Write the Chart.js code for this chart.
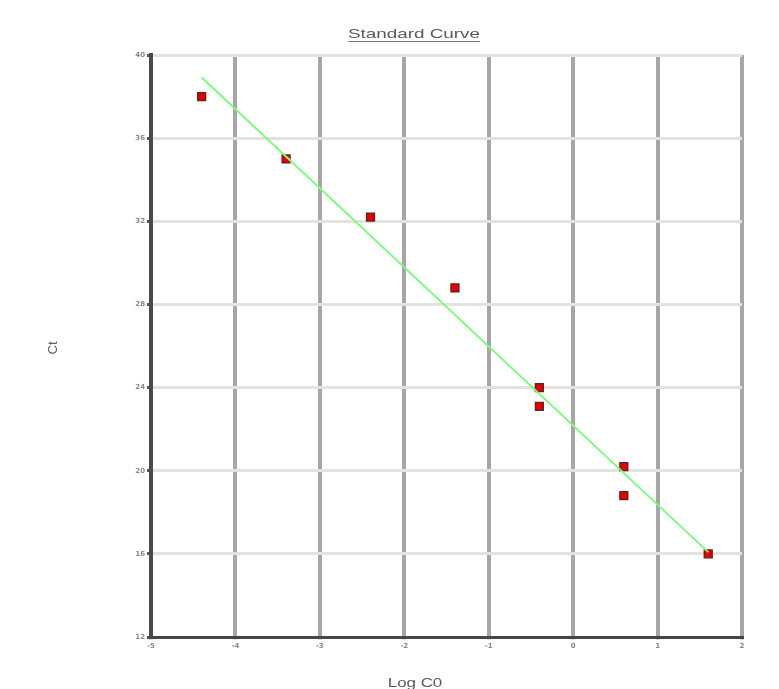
<!DOCTYPE html>
<html>
<head>
<meta charset="utf-8">
<script src="https://cdn.jsdelivr.net/npm/chart.js@4/dist/chart.umd.min.js"></script>
<style>
    html, body { margin: 0; padding: 0; background: #ffffff; }
    #curvaChart { display: block; filter: blur(0.6px); }
</style>
</head>
<body>
<canvas id="curvaChart" width="779" height="689"></canvas>
<script>
// dilution points: log of copies vs threshold cycle
const logCO = [-4.4, -3.4, -2.4, -1.4, -0.4, -0.4, 0.6, 0.6, 1.6];
const ctValues = [38.0, 35.0, 32.2, 28.8, 24.0, 23.1, 20.2, 18.8, 16.0];

const xTicks = [-5, -4, -3, -2, -1, 0, 1, 2];
const yTicks = [12, 16, 20, 24, 28, 32, 36, 40];

const titulo = 'Standard Curve';
const tituloX = 'Log C0';
const tituloY = 'Ct';

// least squares fit drawn across the measured range
function ajusteLinear(xs, ys) {
    const n = xs.length;
    const mx = xs.reduce((a, b) => a + b, 0) / n;
    const my = ys.reduce((a, b) => a + b, 0) / n;
    let sxy = 0, sxx = 0;
    for (let i = 0; i < n; i++) {
        sxy += (xs[i] - mx) * (ys[i] - my);
        sxx += (xs[i] - mx) * (xs[i] - mx);
    }
    const slope = sxy / sxx;
    return { slope, intercept: my - slope * mx };
}

const fit = ajusteLinear(logCO, ctValues);
const xMin = Math.min(...logCO), xMax = Math.max(...logCO);
const linhaFit = [xMin, xMax].map(x => ({ x, y: fit.slope * x + fit.intercept }));
const pontos = logCO.map((x, i) => ({ x, y: ctValues[i] }));

// titles are drawn by hand: underlined, slightly stretched
const textos = {
    id: 'textos',
    afterDraw(chart) {
        const ctx = chart.ctx;
        ctx.save();
        ctx.fillStyle = '#5a5a5a';
        ctx.strokeStyle = '#7a7a7a';
        ctx.textAlign = 'center';
        ctx.textBaseline = 'alphabetic';

        ctx.save();
        ctx.translate(414, 38);
        ctx.scale(1.45, 1);
        ctx.font = '13px "Liberation Sans", Arial, sans-serif';
        ctx.fillText(titulo, 0, 0);
        const w = ctx.measureText(titulo).width;
        ctx.lineWidth = 1;
        ctx.beginPath();
        ctx.moveTo(-w / 2, 3.5);
        ctx.lineTo(w / 2, 3.5);
        ctx.stroke();
        ctx.restore();

        ctx.save();
        ctx.translate(415, 687);
        ctx.scale(1.3, 1);
        ctx.font = '13px "Liberation Sans", Arial, sans-serif';
        ctx.fillText(tituloX, 0, 0);
        ctx.restore();

        ctx.save();
        ctx.translate(57, 348);
        ctx.rotate(-Math.PI / 2);
        ctx.font = '13px "Liberation Sans", Arial, sans-serif';
        ctx.fillText(tituloY, 0, 0);
        ctx.restore();

        ctx.restore();
    }
};

new Chart(document.getElementById('curvaChart').getContext('2d'), {
    type: 'scatter',
    data: {
        datasets: [{
            label: 'Fit',
            data: linhaFit,
            showLine: true,
            borderColor: '#80f880',
            borderWidth: 2,
            pointRadius: 0,
            order: 0
        },
        {
            label: 'Standards',
            data: pontos,
            pointStyle: 'rect',
            pointRadius: 5.5,
            backgroundColor: '#e80000',
            borderColor: '#6e2020',
            borderWidth: 1.5,
            order: 1
        }]
    },
    options: {
        responsive: false,
        animation: false,
        layout: {
            padding: { top: 55, right: 37, left: 0, bottom: 0 }
        },
        plugins: {
            legend: { display: false },
            tooltip: { enabled: false }
        },
        scales: {
            x: {
                type: 'linear',
                min: -5,
                max: 2,
                afterBuildTicks: axis => { axis.ticks = xTicks.map(v => ({ value: v })); },
                afterFit: axis => { axis.height = 52; },
                grid: {
                    color: '#a6a6a6',
                    lineWidth: 4,
                    tickLength: 3,
                    tickColor: '#dddddd'
                },
                border: { color: '#464646', width: 3 },
                ticks: {
                    color: '#888888',
                    padding: 2,
                    font: { size: 7, family: 'DejaVu Sans', weight: 'bold' }
                }
            },
            y: {
                type: 'linear',
                min: 12,
                max: 40,
                afterBuildTicks: axis => { axis.ticks = yTicks.map(v => ({ value: v })); },
                afterFit: axis => { axis.width = 151; },
                grid: {
                    color: '#e3e3dd',
                    lineWidth: 3,
                    tickLength: 4,
                    tickColor: '#555555'
                },
                border: { color: '#4a4a4a', width: 4 },
                ticks: {
                    color: '#888888',
                    padding: 2,
                    font: { size: 7, family: 'DejaVu Sans', weight: 'bold' }
                }
            }
        }
    },
    plugins: [textos]
});
</script>
</body>
</html>
